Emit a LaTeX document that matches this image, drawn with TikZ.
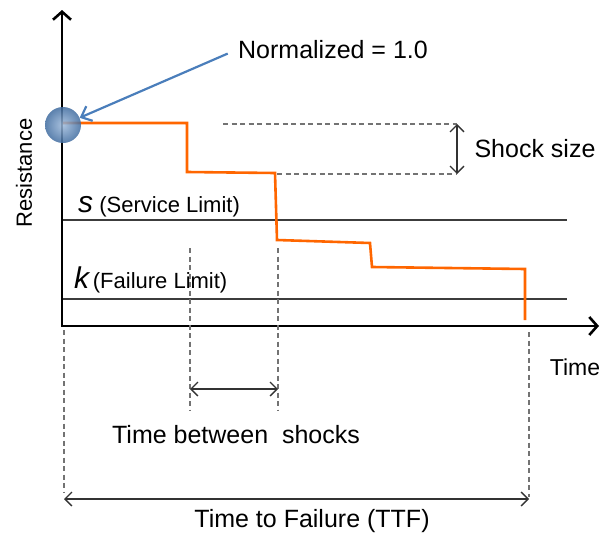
\documentclass[tikz,border=0pt]{standalone}
\usepackage{fontspec}
\setmainfont{Liberation Sans}
\usetikzlibrary{positioning}
\usetikzlibrary{arrows.meta}
\definecolor{stepOrange}{RGB}{255,102,0}
\definecolor{callBlue}{RGB}{74,126,187}
\definecolor{limitGray}{RGB}{60,60,60}
\tikzset{
  label/.style          = { font=\fontsize{25}{30}\selectfont, inner sep=2pt },
  small/.style          = { font=\fontsize{22}{26}\selectfont, inner sep=0pt },
  barb/.style           = { >={Straight Barb[length=7pt,width=14pt]} },
}
\tikzset{
  axis/.style           = { line width=2.6pt, draw=black, >={Straight Barb[length=8pt,width=18pt,line width=2.6pt]}, <-> },
  limit/.style          = { line width=1.4pt, draw=limitGray },
  guide/.style          = { line width=1.1pt, draw=black!55, dash pattern=on 5pt off 3.5pt },
  span/.style           = { line width=1.3pt, draw=black!80, barb, <-> },
  callout/.style        = { line width=2.2pt, draw=callBlue, >={Straight Barb[length=9pt,width=16pt]}, -> },
  stepline/.style       = { line width=2.6pt, draw=stepOrange, line join=miter },
}

\begin{document}
\begin{tikzpicture}[x=1pt, y=-1pt]
  \useasboundingbox (0,0) rectangle (610,538);
  % axes and limits
  \coordinate (top)    at (62,10);
  \coordinate (origin) at (62,326);
  \coordinate (right)  at (599,326);
  \draw [limit] (62,220) -- (567,220);
  \draw [limit] (62,299) -- (567,299);
  \draw [axis] (top) -- (origin) -- (right);

  % resistance steps
  \draw [stepline] (63,123) -- (187,123) -- (187,172) -- (275,173) -- (277,240)
        -- (370,243) -- (372,267) -- (525,269) -- (525,320);

  \node (ball) [circle, minimum size=36pt, inner sep=0pt, shading=radial,
                inner color=callBlue!55, outer color=callBlue!85!black,
                opacity=0.85] at (63,125) {};

  % labels
  \node (norm)  [label] at (333,50)  {Normalized = 1.0};
  \node (shock) [label] at (535,149) {Shock size};
  \node (time)  [label, font=\fontsize{23}{27}\selectfont] at (575,367) {Time};
  \node (tbs)   [label] at (236,435) {Time between\ \ shocks};
  \node (ttf)   [label] at (312,521) {Time to Failure (TTF)};
  \node (res)   [small, rotate=90] at (24,173) {Resistance};
  \node (slim)  [small, anchor=base west] at (78,212)
        {{\fontsize{30}{30}\selectfont\itshape s} (Service Limit)};
  \node (klim)  [small, anchor=base west] at (74,288)
        {{\fontsize{30}{30}\selectfont\itshape k}\,(Failure Limit)};

  \draw [callout, shorten <=9pt] (norm.west) -- (ball);

  % shock size
  \coordinate (shTop) at (457,124);
  \coordinate (shBot) at (457,174);
  \draw [guide] (223,124) -- (shTop);
  \draw [guide] (277,174) -- (shBot);
  \draw [span]  (shTop) -- (shBot);

  % time between shocks
  \coordinate (tb1) at (190,389);
  \coordinate (tb2) at (278,389);
  \draw [guide] (190,248) -- (190,410);
  \draw [guide] (278,248) -- (278,410);
  \draw [span]  (tb1) -- (tb2);

  % time to failure
  \coordinate (tf1) at (64,499);
  \coordinate (tf2) at (529,499);
  \draw [guide] (64,330) -- (64,493);
  \draw [guide] (529,332) -- (529,497);
  \draw [span]  (tf1) -- (tf2);
\end{tikzpicture}
\end{document}
